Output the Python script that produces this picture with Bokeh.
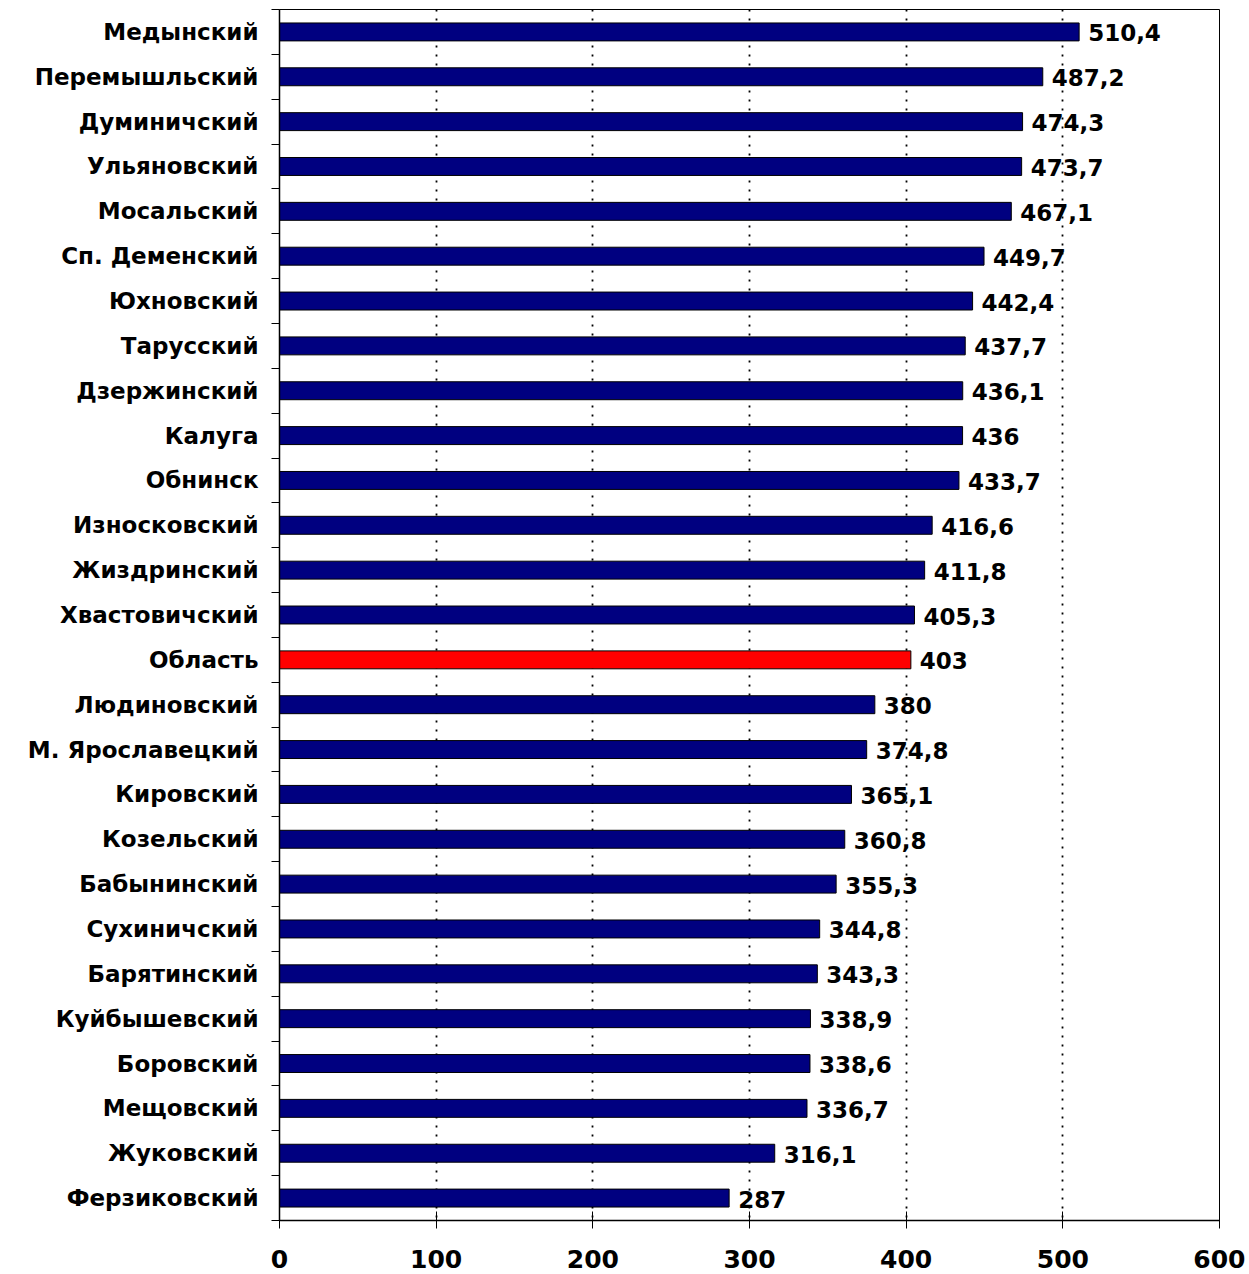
from bokeh.plotting import figure
from bokeh.models import Range1d, FixedTicker, ColumnDataSource
from bokeh.core.properties import value
from bokeh.embed import file_html
from bokeh.resources import INLINE

categories = ["Медынский", "Перемышльский", "Думиничский", "Ульяновский", "Мосальский",
              "Сп. Деменский", "Юхновский", "Тарусский", "Дзержинский", "Калуга", "Обнинск",
              "Износковский", "Жиздринский", "Хвастовичский", "Область", "Людиновский",
              "М. Ярославецкий", "Кировский", "Козельский", "Бабынинский", "Сухиничский",
              "Барятинский", "Куйбышевский", "Боровский", "Мещовский", "Жуковский", "Ферзиковский"]
values = [510.4, 487.2, 474.3, 473.7, 467.1, 449.7, 442.4, 437.7, 436.1, 436, 433.7,
          416.6, 411.8, 405.3, 403, 380, 374.8, 365.1, 360.8, 355.3, 344.8,
          343.3, 338.9, 338.6, 336.7, 316.1, 287]
highlight = "Область"
x_ticks = [0, 100, 200, 300, 400, 500, 600]

FONT = "DejaVu Sans"
n = len(categories)
ys = list(range(n))
labels = [f"{v:g}".replace(".", ",") for v in values]
colors = ["#FF0000" if c == highlight else "#000080" for c in categories]

src = ColumnDataSource(dict(y=ys, val=values, lbl=labels, color=colors))

p = figure(width=1245, height=1274,
           x_range=Range1d(0, 600), y_range=Range1d(n - 0.5, -0.5),
           output_backend="svg", toolbar_location=None,
           min_border_left=279, min_border_right=26, min_border_top=9, min_border_bottom=54)

p.hbar(y="y", left=0, right="val", height=0.4, fill_color="color",
       line_color="black", line_width=1, source=src)

p.text(x="val", y="y", text="lbl", source=src, x_offset=9, y_offset=1,
       text_baseline="middle", text_align="left", text_font=value(FONT),
       text_font_style="bold", text_font_size="23px", text_color="black")

# x axis
xa = p.xaxis[0]
xa.ticker = FixedTicker(ticks=x_ticks)
xa.major_tick_in = 9
xa.major_tick_out = 8
xa.minor_tick_line_color = None
xa.major_label_standoff = 21
xa.major_label_text_font = FONT
xa.major_label_text_font_style = "bold"
xa.major_label_text_font_size = "25px"
xa.major_label_text_color = "black"
xa.axis_line_color = "black"
xa.axis_line_width = 1.5
xa.major_tick_line_color = "black"

# y axis
ya = p.yaxis[0]
ya.ticker = FixedTicker(ticks=ys, minor_ticks=[i - 0.5 for i in range(n + 1)])
ya.major_label_overrides = {i: c for i, c in zip(ys, categories)}
ya.major_tick_in = 0
ya.major_tick_out = 0
ya.minor_tick_in = 0
ya.minor_tick_out = 8
ya.minor_tick_line_color = "black"
ya.major_label_standoff = 13
ya.major_label_text_font = FONT
ya.major_label_text_font_style = "bold"
ya.major_label_text_font_size = "23px"
ya.major_label_text_color = "black"
ya.axis_line_color = "black"
ya.axis_line_width = 1.5

p.ygrid.grid_line_color = None
p.xgrid.grid_line_color = "black"
p.xgrid.grid_line_dash = "2 7"
p.xgrid.grid_line_width = 1.8

p.outline_line_color = "black"
p.outline_line_width = 1
p.background_fill_color = "white"
p.border_fill_color = "white"

open("out.html", "w").write(file_html(p, INLINE))
